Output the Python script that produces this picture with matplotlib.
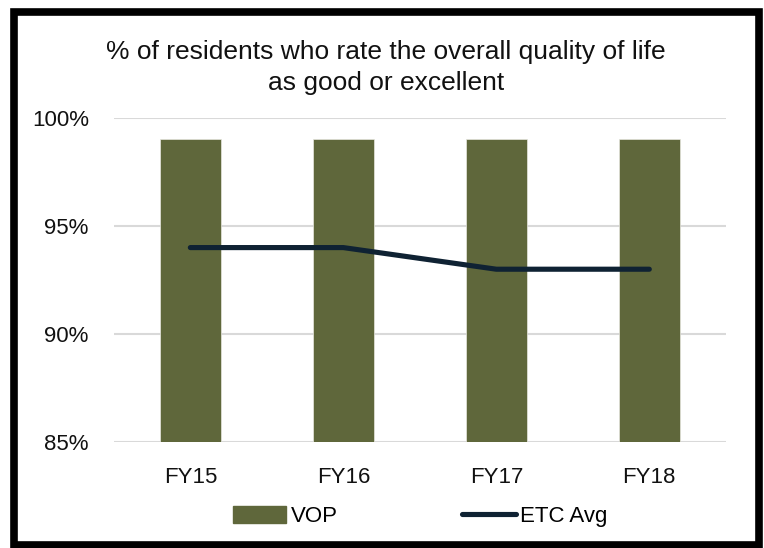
import matplotlib
matplotlib.use("Agg")
import matplotlib.pyplot as plt
from matplotlib.patches import Rectangle
from matplotlib.lines import Line2D
from matplotlib.patches import Patch

years = ["FY15", "FY16", "FY17", "FY18"]
vop = [99, 99, 99, 99]
etc_avg = [94, 94, 93, 93]

plt.rcParams['font.family'] = ['Liberation Sans Narrow', 'Liberation Sans', 'DejaVu Sans']

bar_col = "#5f673b"
line_col = "#0f2233"

fig = plt.figure(figsize=(7.64, 5.48), dpi=100)
ax = fig.add_axes([0.149, 0.193, 0.801, 0.592])

x = list(range(len(years)))
ax.bar(x, vop, width=0.4, color=bar_col, edgecolor="#e8e8e0", linewidth=0.5, zorder=2)
ax.plot(x, etc_avg, color=line_col, linewidth=3.7, solid_capstyle="round", solid_joinstyle="round", zorder=3)

ax.set_ylim(85, 100)
ax.set_xlim(-0.5, 3.5)
ax.set_yticks([85, 90, 95, 100])
ax.set_yticklabels(["85%", "90%", "95%", "100%"])
ax.set_xticks(x)
ax.set_xticklabels(years)
ax.tick_params(axis="both", length=0, labelsize=16, colors="#111111")
ax.tick_params(axis="x", pad=18)
ax.tick_params(axis="y", pad=18)
ax.grid(axis="y", color="#d9d9d9", linewidth=1.5, zorder=0)
ax.set_axisbelow(True)
for s in ax.spines.values():
    s.set_visible(False)

fig.text(0.505, 0.877, "% of residents who rate the overall quality of life\nas good or excellent",
         ha="center", va="center", fontsize=19, color="#111111", linespacing=1.4)

handles = [Patch(facecolor=bar_col, edgecolor=bar_col),
           Line2D([0], [0], color=line_col, linewidth=3.7, solid_capstyle="round")]
fig.legend(handles, ["VOP", "ETC Avg"], loc="center", bbox_to_anchor=(0.55, 0.057),
           ncol=2, frameon=False, fontsize=16, handlelength=2.4, handleheight=0.8,
           handletextpad=0.2, columnspacing=5.6)

fig.patches.append(Rectangle((13.5 / 764, 3 / 548), (759 - 13.5) / 764, (536 - 3) / 548,
                             transform=fig.transFigure, fill=False, edgecolor="black",
                             linewidth=5.5, zorder=10))

fig.savefig("out.png", dpi=100)
